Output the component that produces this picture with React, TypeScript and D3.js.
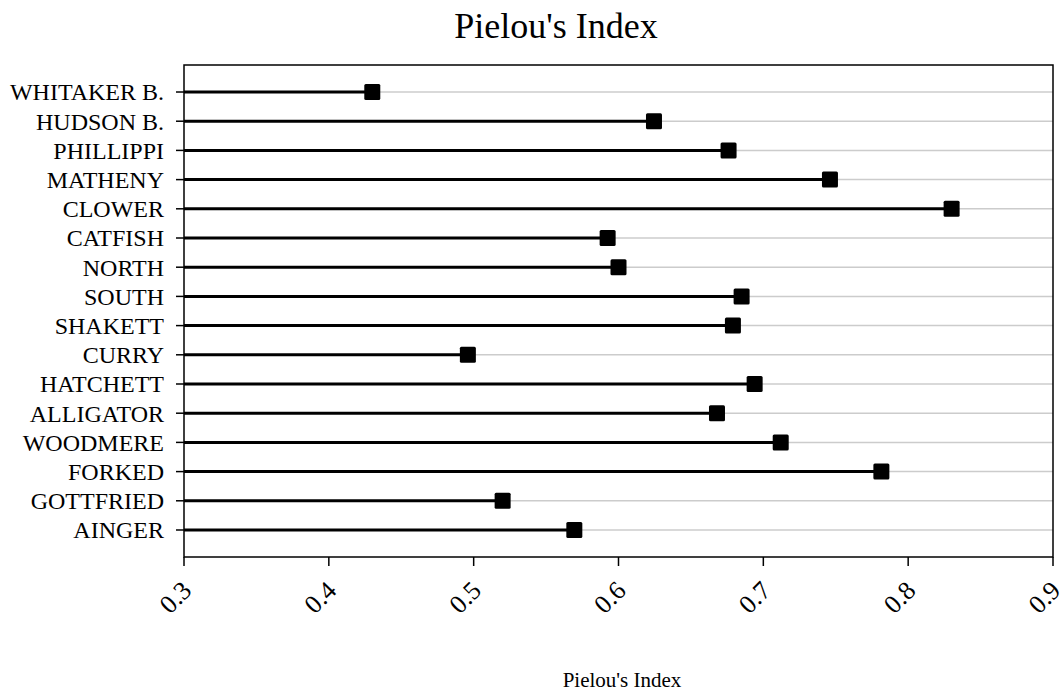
import * as d3 from 'd3'

const sites = [
  'WHITAKER B.', 'HUDSON B.', 'PHILLIPPI', 'MATHENY', 'CLOWER', 'CATFISH', 'NORTH', 'SOUTH',
  'SHAKETT', 'CURRY', 'HATCHETT', 'ALLIGATOR', 'WOODMERE', 'FORKED', 'GOTTFRIED', 'AINGER',
]
const pielou = [
  0.430, 0.6245, 0.676, 0.746, 0.830, 0.5925, 0.600, 0.685,
  0.679, 0.496, 0.694, 0.668, 0.712, 0.7815, 0.520, 0.5695,
]
const xTicks = [0.3, 0.4, 0.5, 0.6, 0.7, 0.8, 0.9]

const W = 1062
const H = 696
const m = { top: 65, right: 9, bottom: 139, left: 184 }
const font = '"Liberation Serif", "Times New Roman", serif'

export default function App() {
  const x = d3.scaleLinear().domain([0.3, 0.9]).range([m.left, W - m.right])
  const y = d3.scalePoint<string>().domain(sites).range([m.top, H - m.bottom]).padding(0.925)
  const fmt = d3.format('.1f')
  const sq = 16

  return (
    <svg width={W} height={H} style={{ position: 'absolute', left: 0, top: 0, background: '#fff' }} fontFamily={font}>
      <text x={556} y={38} textAnchor="middle" fontSize={36}>Pielou's Index</text>

      {sites.map((s) => (
        <line key={'g' + s} x1={x(0.3)} x2={x(0.9)} y1={y(s)} y2={y(s)} stroke="#cccccc" strokeWidth={1.5} />
      ))}
      {sites.map((s, i) => (
        <line key={'l' + s} x1={x(0.3)} x2={x(pielou[i])} y1={y(s)} y2={y(s)} stroke="#000" strokeWidth={3} />
      ))}
      {sites.map((s, i) => (
        <rect key={'p' + s} x={x(pielou[i]) - sq / 2} y={(y(s) ?? 0) - sq / 2} width={sq} height={sq} rx={1.5} fill="#000" />
      ))}

      <rect x={m.left} y={m.top} width={W - m.right - m.left} height={H - m.bottom - m.top} fill="none" stroke="#000" strokeWidth={1.5} />

      {sites.map((s) => (
        <g key={'t' + s} transform={`translate(0,${y(s)})`}>
          <line x1={m.left - 8} x2={m.left} stroke="#000" strokeWidth={1.5} />
          <text x={m.left - 20} dy="0.35em" textAnchor="end" fontSize={24}>{s}</text>
        </g>
      ))}

      {xTicks.map((t) => (
        <g key={'x' + t} transform={`translate(${x(t)},${H - m.bottom})`}>
          <line y1={0} y2={9} stroke="#000" strokeWidth={1.5} />
          <text transform="translate(9,35) rotate(-45)" textAnchor="end" fontSize={26}>{fmt(t)}</text>
        </g>
      ))}

      <text x={622} y={687} textAnchor="middle" fontSize={21}>Pielou's Index</text>
    </svg>
  )
}
